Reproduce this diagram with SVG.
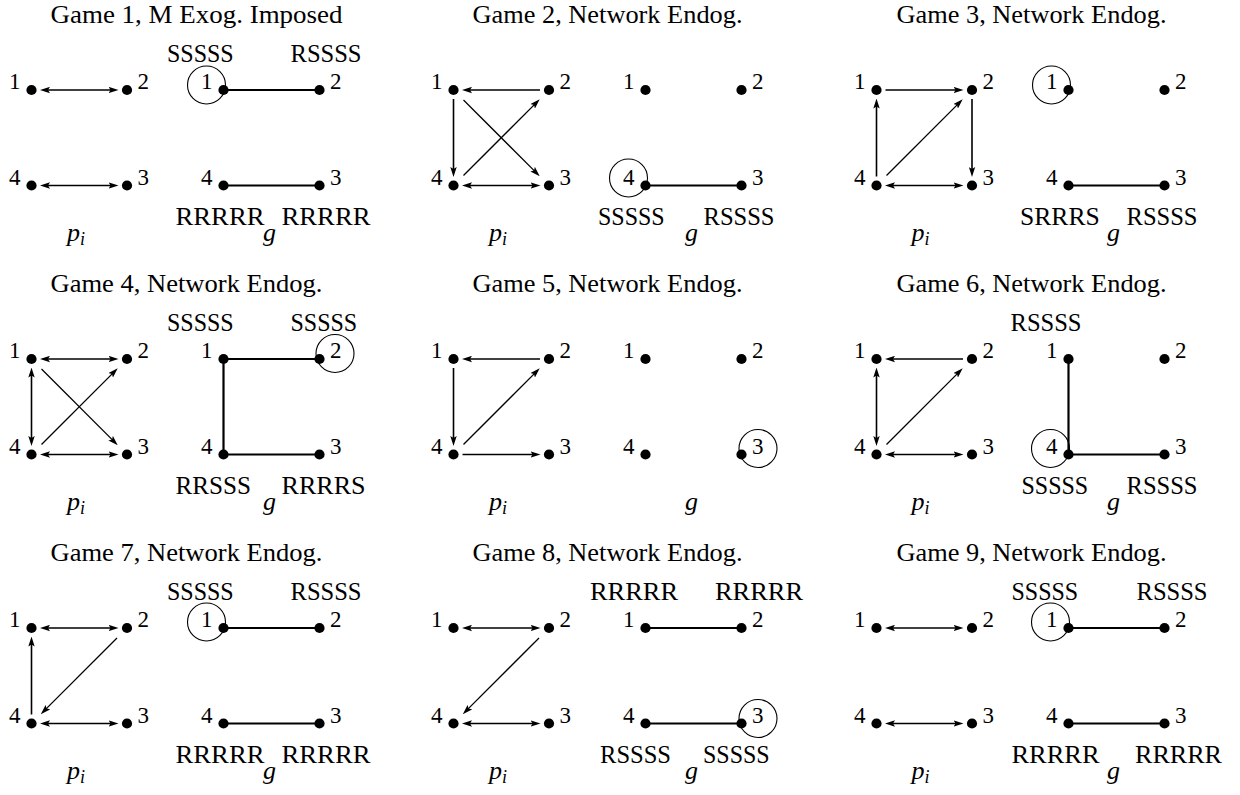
<svg xmlns="http://www.w3.org/2000/svg" width="1240" height="795" viewBox="0 0 1240 795">
<style>
text{font-family:"Liberation Serif","Times New Roman",serif;fill:#000}
.t{font-size:25px}
.n{font-size:23px}
.l{font-size:25px}
.m{font-size:26px;font-style:italic}
.s{font-size:18px}
.e{stroke:#000;stroke-width:1.6;fill:none}
.d{stroke-width:1.3}
.ge{stroke:#000;stroke-width:2.2;fill:none}
.c{fill:none;stroke:#000;stroke-width:1.1}
.dot{fill:#000}
.a{marker-end:url(#ah)}
.b{marker-start:url(#ah);marker-end:url(#ah)}
.L{text-anchor:end}
</style>
<defs>
<marker id="ah" viewBox="0 0 10 7" refX="2.5" refY="3.5" markerWidth="10" markerHeight="7" markerUnits="userSpaceOnUse" orient="auto-start-reverse"><path d="M0,0.3 L10,3.5 L0,6.7 L2,3.5 z" fill="#000"/></marker>
</defs>
<rect width="1240" height="795" fill="#fff"/>

<!-- Game 1 -->
<g id="game1" transform="translate(31.5,90)">
<text class="t" x="19" y="-67" textLength="292" lengthAdjust="spacingAndGlyphs">Game 1, M Exog. Imposed</text>
<g id="game1-connectors">
<line class="e b" x1="16" y1="0" x2="79.5" y2="0"/>
<line class="e b" x1="16" y1="95.5" x2="79.5" y2="95.5"/>
<line class="ge" x1="192" y1="0" x2="288" y2="0"/>
<line class="ge" x1="192" y1="95.5" x2="288" y2="95.5"/>
</g>
<g id="game1-p-n1"><circle class="dot" cx="0" cy="0" r="5.1"/><text class="n L" x="-11" y="-1">1</text></g>
<g id="game1-p-n2"><circle class="dot" cx="95.5" cy="0" r="5.1"/><text class="n" x="106" y="-1">2</text></g>
<g id="game1-p-n3"><circle class="dot" cx="95.5" cy="95.5" r="5.1"/><text class="n" x="106" y="94.5">3</text></g>
<g id="game1-p-n4"><circle class="dot" cx="0" cy="95.5" r="5.1"/><text class="n L" x="-11" y="94.5">4</text></g>
<g id="game1-g-n1"><circle class="dot" cx="192" cy="0" r="5.1"/><text class="n L" x="181" y="-1">1</text><circle class="c" cx="175" cy="-5" r="19"/><text class="l" x="135.5" y="-28" textLength="66.7" lengthAdjust="spacingAndGlyphs">SSSSS</text></g>
<g id="game1-g-n2"><circle class="dot" cx="288" cy="0" r="5.1"/><text class="n" x="298.5" y="-1">2</text><text class="l" x="259" y="-28" textLength="71" lengthAdjust="spacingAndGlyphs">RSSSS</text></g>
<g id="game1-g-n3"><circle class="dot" cx="288" cy="95.5" r="5.1"/><text class="n" x="298.5" y="94.5">3</text><text class="l" x="250" y="134.5" textLength="89" lengthAdjust="spacingAndGlyphs">RRRRR</text></g>
<g id="game1-g-n4"><circle class="dot" cx="192" cy="95.5" r="5.1"/><text class="n L" x="181" y="94.5">4</text><text class="l" x="144" y="134.5" textLength="89" lengthAdjust="spacingAndGlyphs">RRRRR</text></g>
<text class="m" x="44.5" y="150.5" text-anchor="middle">p<tspan class="s" dy="4">i</tspan></text>
<text class="m" x="238" y="150.5" text-anchor="middle">g</text>
</g>

<!-- Game 2 -->
<g id="game2" transform="translate(453.5,90)">
<text class="t" x="19" y="-67" textLength="270" lengthAdjust="spacingAndGlyphs">Game 2, Network Endog.</text>
<g id="game2-connectors">
<line class="e a" x1="86.5" y1="0" x2="16" y2="0"/>
<line class="e a" x1="0" y1="9" x2="0" y2="79.5"/>
<line class="e d a" x1="10" y1="10" x2="80.9" y2="80.9"/>
<line class="e d a" x1="10" y1="85.5" x2="80.9" y2="14.6"/>
<line class="e b" x1="16" y1="95.5" x2="79.5" y2="95.5"/>
<line class="ge" x1="192" y1="95.5" x2="288" y2="95.5"/>
</g>
<g id="game2-p-n1"><circle class="dot" cx="0" cy="0" r="5.1"/><text class="n L" x="-11" y="-1">1</text></g>
<g id="game2-p-n2"><circle class="dot" cx="95.5" cy="0" r="5.1"/><text class="n" x="106" y="-1">2</text></g>
<g id="game2-p-n3"><circle class="dot" cx="95.5" cy="95.5" r="5.1"/><text class="n" x="106" y="94.5">3</text></g>
<g id="game2-p-n4"><circle class="dot" cx="0" cy="95.5" r="5.1"/><text class="n L" x="-11" y="94.5">4</text></g>
<g id="game2-g-n1"><circle class="dot" cx="192" cy="0" r="5.1"/><text class="n L" x="181" y="-1">1</text></g>
<g id="game2-g-n2"><circle class="dot" cx="288" cy="0" r="5.1"/><text class="n" x="298.5" y="-1">2</text></g>
<g id="game2-g-n3"><circle class="dot" cx="288" cy="95.5" r="5.1"/><text class="n" x="298.5" y="94.5">3</text><text class="l" x="250" y="134.5" textLength="71" lengthAdjust="spacingAndGlyphs">RSSSS</text></g>
<g id="game2-g-n4"><circle class="dot" cx="192" cy="95.5" r="5.1"/><text class="n L" x="181" y="94.5">4</text><circle class="c" cx="175" cy="88" r="19"/><text class="l" x="144.5" y="134.5" textLength="66.7" lengthAdjust="spacingAndGlyphs">SSSSS</text></g>
<text class="m" x="44.5" y="150.5" text-anchor="middle">p<tspan class="s" dy="4">i</tspan></text>
<text class="m" x="238" y="150.5" text-anchor="middle">g</text>
</g>

<!-- Game 3 -->
<g id="game3" transform="translate(876.5,90)">
<text class="t" x="20" y="-67" textLength="270" lengthAdjust="spacingAndGlyphs">Game 3, Network Endog.</text>
<g id="game3-connectors">
<line class="e a" x1="9" y1="0" x2="79.5" y2="0"/>
<line class="e a" x1="0" y1="86.5" x2="0" y2="16"/>
<line class="e d a" x1="10" y1="85.5" x2="80.9" y2="14.6"/>
<line class="e a" x1="95.5" y1="9" x2="95.5" y2="79.5"/>
<line class="e b" x1="16" y1="95.5" x2="79.5" y2="95.5"/>
<line class="ge" x1="192" y1="95.5" x2="288" y2="95.5"/>
</g>
<g id="game3-p-n1"><circle class="dot" cx="0" cy="0" r="5.1"/><text class="n L" x="-11" y="-1">1</text></g>
<g id="game3-p-n2"><circle class="dot" cx="95.5" cy="0" r="5.1"/><text class="n" x="106" y="-1">2</text></g>
<g id="game3-p-n3"><circle class="dot" cx="95.5" cy="95.5" r="5.1"/><text class="n" x="106" y="94.5">3</text></g>
<g id="game3-p-n4"><circle class="dot" cx="0" cy="95.5" r="5.1"/><text class="n L" x="-11" y="94.5">4</text></g>
<g id="game3-g-n1"><circle class="dot" cx="192" cy="0" r="5.1"/><text class="n L" x="181" y="-1">1</text><circle class="c" cx="175" cy="-5" r="19"/></g>
<g id="game3-g-n2"><circle class="dot" cx="288" cy="0" r="5.1"/><text class="n" x="298.5" y="-1">2</text></g>
<g id="game3-g-n3"><circle class="dot" cx="288" cy="95.5" r="5.1"/><text class="n" x="298.5" y="94.5">3</text><text class="l" x="250" y="134.5" textLength="71" lengthAdjust="spacingAndGlyphs">RSSSS</text></g>
<g id="game3-g-n4"><circle class="dot" cx="192" cy="95.5" r="5.1"/><text class="n L" x="181" y="94.5">4</text><text class="l" x="143.5" y="134.5" textLength="79.7" lengthAdjust="spacingAndGlyphs">SRRRS</text></g>
<text class="m" x="44" y="150.5" text-anchor="middle">p<tspan class="s" dy="4">i</tspan></text>
<text class="m" x="237" y="150.5" text-anchor="middle">g</text>
</g>

<!-- Game 4 -->
<g id="game4" transform="translate(31.5,359)">
<text class="t" x="19" y="-67" textLength="272" lengthAdjust="spacingAndGlyphs">Game 4, Network Endog.</text>
<g id="game4-connectors">
<line class="e b" x1="16" y1="0" x2="79.5" y2="0"/>
<line class="e b" x1="0" y1="16" x2="0" y2="79.5"/>
<line class="e d a" x1="10" y1="10" x2="80.9" y2="80.9"/>
<line class="e d a" x1="10" y1="85.5" x2="80.9" y2="14.6"/>
<line class="e b" x1="16" y1="95.5" x2="79.5" y2="95.5"/>
<line class="ge" x1="192" y1="0" x2="288" y2="0"/>
<line class="ge" x1="192" y1="0" x2="192" y2="95.5"/>
<line class="ge" x1="192" y1="95.5" x2="288" y2="95.5"/>
</g>
<g id="game4-p-n1"><circle class="dot" cx="0" cy="0" r="5.1"/><text class="n L" x="-11" y="-1">1</text></g>
<g id="game4-p-n2"><circle class="dot" cx="95.5" cy="0" r="5.1"/><text class="n" x="106" y="-1">2</text></g>
<g id="game4-p-n3"><circle class="dot" cx="95.5" cy="95.5" r="5.1"/><text class="n" x="106" y="94.5">3</text></g>
<g id="game4-p-n4"><circle class="dot" cx="0" cy="95.5" r="5.1"/><text class="n L" x="-11" y="94.5">4</text></g>
<g id="game4-g-n1"><circle class="dot" cx="192" cy="0" r="5.1"/><text class="n L" x="181" y="-1">1</text><text class="l" x="135.5" y="-28" textLength="66.7" lengthAdjust="spacingAndGlyphs">SSSSS</text></g>
<g id="game4-g-n2"><circle class="dot" cx="288" cy="0" r="5.1"/><text class="n" x="298.5" y="-1">2</text><circle class="c" cx="303.5" cy="-5.5" r="19"/><text class="l" x="259" y="-28" textLength="66.7" lengthAdjust="spacingAndGlyphs">SSSSS</text></g>
<g id="game4-g-n3"><circle class="dot" cx="288" cy="95.5" r="5.1"/><text class="n" x="298.5" y="94.5">3</text><text class="l" x="250" y="134.5" textLength="84" lengthAdjust="spacingAndGlyphs">RRRRS</text></g>
<g id="game4-g-n4"><circle class="dot" cx="192" cy="95.5" r="5.1"/><text class="n L" x="181" y="94.5">4</text><text class="l" x="144" y="134.5" textLength="75.4" lengthAdjust="spacingAndGlyphs">RRSSS</text></g>
<text class="m" x="44.5" y="150.5" text-anchor="middle">p<tspan class="s" dy="4">i</tspan></text>
<text class="m" x="238" y="150.5" text-anchor="middle">g</text>
</g>

<!-- Game 5 -->
<g id="game5" transform="translate(453.5,359)">
<text class="t" x="19" y="-67" textLength="270" lengthAdjust="spacingAndGlyphs">Game 5, Network Endog.</text>
<g id="game5-connectors">
<line class="e a" x1="86.5" y1="0" x2="16" y2="0"/>
<line class="e a" x1="0" y1="9" x2="0" y2="79.5"/>
<line class="e d a" x1="10" y1="85.5" x2="80.9" y2="14.6"/>
<line class="e a" x1="9" y1="95.5" x2="79.5" y2="95.5"/>
</g>
<g id="game5-p-n1"><circle class="dot" cx="0" cy="0" r="5.1"/><text class="n L" x="-11" y="-1">1</text></g>
<g id="game5-p-n2"><circle class="dot" cx="95.5" cy="0" r="5.1"/><text class="n" x="106" y="-1">2</text></g>
<g id="game5-p-n3"><circle class="dot" cx="95.5" cy="95.5" r="5.1"/><text class="n" x="106" y="94.5">3</text></g>
<g id="game5-p-n4"><circle class="dot" cx="0" cy="95.5" r="5.1"/><text class="n L" x="-11" y="94.5">4</text></g>
<g id="game5-g-n1"><circle class="dot" cx="192" cy="0" r="5.1"/><text class="n L" x="181" y="-1">1</text></g>
<g id="game5-g-n2"><circle class="dot" cx="288" cy="0" r="5.1"/><text class="n" x="298.5" y="-1">2</text></g>
<g id="game5-g-n3"><circle class="dot" cx="288" cy="95.5" r="5.1"/><text class="n" x="298.5" y="94.5">3</text><circle class="c" cx="304.5" cy="89.5" r="19"/></g>
<g id="game5-g-n4"><circle class="dot" cx="192" cy="95.5" r="5.1"/><text class="n L" x="181" y="94.5">4</text></g>
<text class="m" x="44.5" y="150.5" text-anchor="middle">p<tspan class="s" dy="4">i</tspan></text>
<text class="m" x="238" y="150.5" text-anchor="middle">g</text>
</g>

<!-- Game 6 -->
<g id="game6" transform="translate(876.5,359)">
<text class="t" x="20" y="-67" textLength="270" lengthAdjust="spacingAndGlyphs">Game 6, Network Endog.</text>
<g id="game6-connectors">
<line class="e a" x1="86.5" y1="0" x2="16" y2="0"/>
<line class="e b" x1="0" y1="16" x2="0" y2="79.5"/>
<line class="e d a" x1="10" y1="85.5" x2="80.9" y2="14.6"/>
<line class="e b" x1="16" y1="95.5" x2="79.5" y2="95.5"/>
<line class="ge" x1="192" y1="0" x2="192" y2="95.5"/>
<line class="ge" x1="192" y1="95.5" x2="288" y2="95.5"/>
</g>
<g id="game6-p-n1"><circle class="dot" cx="0" cy="0" r="5.1"/><text class="n L" x="-11" y="-1">1</text></g>
<g id="game6-p-n2"><circle class="dot" cx="95.5" cy="0" r="5.1"/><text class="n" x="106" y="-1">2</text></g>
<g id="game6-p-n3"><circle class="dot" cx="95.5" cy="95.5" r="5.1"/><text class="n" x="106" y="94.5">3</text></g>
<g id="game6-p-n4"><circle class="dot" cx="0" cy="95.5" r="5.1"/><text class="n L" x="-11" y="94.5">4</text></g>
<g id="game6-g-n1"><circle class="dot" cx="192" cy="0" r="5.1"/><text class="n L" x="181" y="-1">1</text><text class="l" x="134" y="-28" textLength="71" lengthAdjust="spacingAndGlyphs">RSSSS</text></g>
<g id="game6-g-n2"><circle class="dot" cx="288" cy="0" r="5.1"/><text class="n" x="298.5" y="-1">2</text></g>
<g id="game6-g-n3"><circle class="dot" cx="288" cy="95.5" r="5.1"/><text class="n" x="298.5" y="94.5">3</text><text class="l" x="250" y="134.5" textLength="71" lengthAdjust="spacingAndGlyphs">RSSSS</text></g>
<g id="game6-g-n4"><circle class="dot" cx="192" cy="95.5" r="5.1"/><text class="n L" x="181" y="94.5">4</text><circle class="c" cx="174" cy="89.5" r="19"/><text class="l" x="145" y="134.5" textLength="66.7" lengthAdjust="spacingAndGlyphs">SSSSS</text></g>
<text class="m" x="44" y="150.5" text-anchor="middle">p<tspan class="s" dy="4">i</tspan></text>
<text class="m" x="237" y="150.5" text-anchor="middle">g</text>
</g>

<!-- Game 7 -->
<g id="game7" transform="translate(31.5,628)">
<text class="t" x="19" y="-67" textLength="272" lengthAdjust="spacingAndGlyphs">Game 7, Network Endog.</text>
<g id="game7-connectors">
<line class="e b" x1="16" y1="0" x2="79.5" y2="0"/>
<line class="e a" x1="0" y1="86.5" x2="0" y2="16"/>
<line class="e d a" x1="85.5" y1="10" x2="14.6" y2="80.9"/>
<line class="e b" x1="16" y1="95.5" x2="79.5" y2="95.5"/>
<line class="ge" x1="192" y1="0" x2="288" y2="0"/>
<line class="ge" x1="192" y1="95.5" x2="288" y2="95.5"/>
</g>
<g id="game7-p-n1"><circle class="dot" cx="0" cy="0" r="5.1"/><text class="n L" x="-11" y="-1">1</text></g>
<g id="game7-p-n2"><circle class="dot" cx="95.5" cy="0" r="5.1"/><text class="n" x="106" y="-1">2</text></g>
<g id="game7-p-n3"><circle class="dot" cx="95.5" cy="95.5" r="5.1"/><text class="n" x="106" y="94.5">3</text></g>
<g id="game7-p-n4"><circle class="dot" cx="0" cy="95.5" r="5.1"/><text class="n L" x="-11" y="94.5">4</text></g>
<g id="game7-g-n1"><circle class="dot" cx="192" cy="0" r="5.1"/><text class="n L" x="181" y="-1">1</text><circle class="c" cx="175" cy="-6" r="19"/><text class="l" x="135.5" y="-28" textLength="66.7" lengthAdjust="spacingAndGlyphs">SSSSS</text></g>
<g id="game7-g-n2"><circle class="dot" cx="288" cy="0" r="5.1"/><text class="n" x="298.5" y="-1">2</text><text class="l" x="259" y="-28" textLength="71" lengthAdjust="spacingAndGlyphs">RSSSS</text></g>
<g id="game7-g-n3"><circle class="dot" cx="288" cy="95.5" r="5.1"/><text class="n" x="298.5" y="94.5">3</text><text class="l" x="250" y="134.5" textLength="89" lengthAdjust="spacingAndGlyphs">RRRRR</text></g>
<g id="game7-g-n4"><circle class="dot" cx="192" cy="95.5" r="5.1"/><text class="n L" x="181" y="94.5">4</text><text class="l" x="144" y="134.5" textLength="89" lengthAdjust="spacingAndGlyphs">RRRRR</text></g>
<text class="m" x="44.5" y="150.5" text-anchor="middle">p<tspan class="s" dy="4">i</tspan></text>
<text class="m" x="238" y="150.5" text-anchor="middle">g</text>
</g>

<!-- Game 8 -->
<g id="game8" transform="translate(453.5,628)">
<text class="t" x="19" y="-67" textLength="270" lengthAdjust="spacingAndGlyphs">Game 8, Network Endog.</text>
<g id="game8-connectors">
<line class="e b" x1="16" y1="0" x2="79.5" y2="0"/>
<line class="e d a" x1="85.5" y1="10" x2="14.6" y2="80.9"/>
<line class="e b" x1="16" y1="95.5" x2="79.5" y2="95.5"/>
<line class="ge" x1="192" y1="0" x2="288" y2="0"/>
<line class="ge" x1="192" y1="95.5" x2="288" y2="95.5"/>
</g>
<g id="game8-p-n1"><circle class="dot" cx="0" cy="0" r="5.1"/><text class="n L" x="-11" y="-1">1</text></g>
<g id="game8-p-n2"><circle class="dot" cx="95.5" cy="0" r="5.1"/><text class="n" x="106" y="-1">2</text></g>
<g id="game8-p-n3"><circle class="dot" cx="95.5" cy="95.5" r="5.1"/><text class="n" x="106" y="94.5">3</text></g>
<g id="game8-p-n4"><circle class="dot" cx="0" cy="95.5" r="5.1"/><text class="n L" x="-11" y="94.5">4</text></g>
<g id="game8-g-n1"><circle class="dot" cx="192" cy="0" r="5.1"/><text class="n L" x="181" y="-1">1</text><text class="l" x="136.5" y="-28" textLength="88" lengthAdjust="spacingAndGlyphs">RRRRR</text></g>
<g id="game8-g-n2"><circle class="dot" cx="288" cy="0" r="5.1"/><text class="n" x="298.5" y="-1">2</text><text class="l" x="261.5" y="-28" textLength="88" lengthAdjust="spacingAndGlyphs">RRRRR</text></g>
<g id="game8-g-n3"><circle class="dot" cx="288" cy="95.5" r="5.1"/><text class="n" x="298.5" y="94.5">3</text><circle class="c" cx="304.5" cy="90.5" r="19"/><text class="l" x="249.5" y="134.5" textLength="66.7" lengthAdjust="spacingAndGlyphs">SSSSS</text></g>
<g id="game8-g-n4"><circle class="dot" cx="192" cy="95.5" r="5.1"/><text class="n L" x="181" y="94.5">4</text><text class="l" x="146.5" y="134.5" textLength="71" lengthAdjust="spacingAndGlyphs">RSSSS</text></g>
<text class="m" x="44.5" y="150.5" text-anchor="middle">p<tspan class="s" dy="4">i</tspan></text>
<text class="m" x="238" y="150.5" text-anchor="middle">g</text>
</g>

<!-- Game 9 -->
<g id="game9" transform="translate(876.5,628)">
<text class="t" x="20" y="-67" textLength="270" lengthAdjust="spacingAndGlyphs">Game 9, Network Endog.</text>
<g id="game9-connectors">
<line class="e b" x1="16" y1="0" x2="79.5" y2="0"/>
<line class="e b" x1="16" y1="95.5" x2="79.5" y2="95.5"/>
<line class="ge" x1="192" y1="0" x2="288" y2="0"/>
<line class="ge" x1="192" y1="95.5" x2="288" y2="95.5"/>
</g>
<g id="game9-p-n1"><circle class="dot" cx="0" cy="0" r="5.1"/><text class="n L" x="-11" y="-1">1</text></g>
<g id="game9-p-n2"><circle class="dot" cx="95.5" cy="0" r="5.1"/><text class="n" x="106" y="-1">2</text></g>
<g id="game9-p-n3"><circle class="dot" cx="95.5" cy="95.5" r="5.1"/><text class="n" x="106" y="94.5">3</text></g>
<g id="game9-p-n4"><circle class="dot" cx="0" cy="95.5" r="5.1"/><text class="n L" x="-11" y="94.5">4</text></g>
<g id="game9-g-n1"><circle class="dot" cx="192" cy="0" r="5.1"/><text class="n L" x="181" y="-1">1</text><circle class="c" cx="174" cy="-6" r="19"/><text class="l" x="135" y="-28" textLength="66.7" lengthAdjust="spacingAndGlyphs">SSSSS</text></g>
<g id="game9-g-n2"><circle class="dot" cx="288" cy="0" r="5.1"/><text class="n" x="298.5" y="-1">2</text><text class="l" x="260" y="-28" textLength="71" lengthAdjust="spacingAndGlyphs">RSSSS</text></g>
<g id="game9-g-n3"><circle class="dot" cx="288" cy="95.5" r="5.1"/><text class="n" x="298.5" y="94.5">3</text><text class="l" x="258.5" y="134.5" textLength="87" lengthAdjust="spacingAndGlyphs">RRRRR</text></g>
<g id="game9-g-n4"><circle class="dot" cx="192" cy="95.5" r="5.1"/><text class="n L" x="181" y="94.5">4</text><text class="l" x="135" y="134.5" textLength="88" lengthAdjust="spacingAndGlyphs">RRRRR</text></g>
<text class="m" x="44" y="150.5" text-anchor="middle">p<tspan class="s" dy="4">i</tspan></text>
<text class="m" x="237" y="150.5" text-anchor="middle">g</text>
</g>
</svg>
